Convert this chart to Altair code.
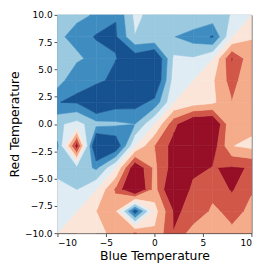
import math
import altair as alt
import pandas as pd

# grid coordinates
x_values = [-10, -8, -6, -4, -2, 0, 2, 4, 6, 8, 10]
y_values = [10, 8, 6, 4, 2, 0, -2, -4, -6, -8, -10]

# z values, one row per y (top to bottom), columns follow x_values
z_y10 = [0.40, 0.45, 0.52, 0.735, 0.18, 0.35, 0.33, 0.25, 0.32, 0.24, 0.0]
z_y8 = [0.45, 0.58, 0.78, 0.78, 0.26, 0.26, 0.49, 0.62, 0.77, 0.0, -0.24]
z_y6 = [0.40, 0.45, 0.59, 0.74, 0.905, 1.09, 0.20, 0.22, 0.0, -0.77, -0.32]
z_y4 = [0.37, 0.71, 0.67, 0.84, 1.00, 1.07, 0.12, 0.0, -0.22, -0.62, -0.25]
z_y2 = [0.745, 0.776, 1.13, 0.885, 0.86, 0.68, 0.0, -0.12, -0.20, -0.49, -0.33]
z_y0 = [0.30, 0.15, 0.40, 0.45, 0.50, 0.0, -0.68, -1.07, -1.09, -0.26, -0.35]
z_ym2 = [0.55, -0.90, 1.20, 1.00, 0.0, -0.50, -0.86, -1.00, -0.905, -0.26, -0.18]
z_ym4 = [0.30, 0.30, 0.55, 0.0, -1.00, -0.45, -0.885, -0.84, -0.74, -0.78, -0.735]
z_ym6 = [0.20, 0.25, 0.0, -0.55, -1.20, -0.40, -1.13, -0.67, -0.59, -0.78, -0.52]
z_ym8 = [0.15, 0.0, -0.25, -0.30, 0.90, -0.15, -0.776, -0.71, -0.45, -0.58, -0.45]
z_ym10 = [0.0, -0.15, -0.20, -0.30, -0.55, -0.30, -0.745, -0.37, -0.40, -0.45, -0.40]
z_rows = [z_y10, z_y8, z_y6, z_y4, z_y2, z_y0, z_ym2, z_ym4, z_ym6, z_ym8, z_ym10]

# contour levels and RdBu band colours
levels = [-0.75, -0.5, -0.25, 0.0, 0.25, 0.5, 0.75]
band_colors = ["#960f26", "#d15749", "#f5ac8b", "#fbe5d9",
               "#dfecf3", "#9ac9e0", "#3f8dc0", "#165290"]

x_ticks = [-10, -5, 0, 5, 10]
y_ticks = [-10, -7.5, -5, -2.5, 0, 2.5, 5, 7.5, 10]

# ---- filled contour bands (marching squares on each grid cell) ----
Z = {}
for r, yv in enumerate(y_values):
    for c, xv in enumerate(x_values):
        Z[(xv, yv)] = z_rows[r][c]

xs = sorted(x_values)
ys = sorted(y_values)
bounds = [-math.inf] + levels + [math.inf]


def band_value(k):
    lo, hi = bounds[k], bounds[k + 1]
    if not math.isfinite(lo):
        return hi - 0.1
    if not math.isfinite(hi):
        return lo + 0.1
    return 0.5 * (lo + hi)


def area(pts):
    s = 0.0
    for a in range(len(pts)):
        x1, y1 = pts[a]
        x2, y2 = pts[(a + 1) % len(pts)]
        s += x1 * y2 - x2 * y1
    return abs(s) / 2


records = []
pid = 0
for i in range(len(xs) - 1):
    for j in range(len(ys) - 1):
        corners = [(xs[i], ys[j]), (xs[i + 1], ys[j]),
                   (xs[i + 1], ys[j + 1]), (xs[i], ys[j + 1])]
        vals = [Z[c] for c in corners]
        for k in range(len(bounds) - 1):
            lo, hi = bounds[k], bounds[k + 1]
            pts = []
            for e in range(4):
                (xa, ya), va = corners[e], vals[e]
                (xb, yb), vb = corners[(e + 1) % 4], vals[(e + 1) % 4]
                if lo <= va <= hi:
                    pts.append((xa, ya))
                cross = []
                for L in (lo, hi):
                    if math.isfinite(L) and (va - L) * (vb - L) < 0:
                        t = (L - va) / (vb - va)
                        cross.append((t, xa + t * (xb - xa), ya + t * (yb - ya)))
                cross.sort()
                pts += [(p[1], p[2]) for p in cross]
            clean = []
            for p in pts:
                if not clean or (abs(p[0] - clean[-1][0]) > 1e-9 or abs(p[1] - clean[-1][1]) > 1e-9):
                    clean.append(p)
            if len(clean) >= 3 and area(clean) > 1e-6:
                for n, (px, py) in enumerate(clean):
                    records.append({"pid": pid, "ord": n, "x": px, "y": py,
                                    "val": band_value(k)})
                pid += 1

df = pd.DataFrame(records)

color_scale = alt.Scale(type="threshold", domain=levels, range=band_colors)

chart = alt.Chart(df).mark_line(interpolate="linear-closed", strokeWidth=0.6).encode(
    x=alt.X("x:Q",
            scale=alt.Scale(domain=[-10, 10], nice=False, zero=False),
            axis=alt.Axis(values=x_ticks, format="d", title="Blue Temperature",
                          titleY=23, titleBaseline="middle")),
    y=alt.Y("y:Q",
            scale=alt.Scale(domain=[-10, 10], nice=False, zero=False),
            axis=alt.Axis(values=y_ticks, format=".1f", title="Red Temperature",
                          titleX=-44, titleY=112.5, titleAngle=270,
                          titleBaseline="middle", titleAlign="center")),
    detail="pid:N",
    order="ord:Q",
    fill=alt.Fill("val:Q", scale=color_scale, legend=None),
    stroke=alt.Stroke("val:Q", scale=color_scale, legend=None),
).properties(
    width=200,
    height=225,
    autosize=alt.AutoSizeParams(type="none"),
    padding={"left": 51, "top": 3, "right": 14, "bottom": 37},
).configure_view(
    stroke="#222222", strokeWidth=1
).configure_axis(
    grid=False, domain=False, tickColor="#222222", tickSize=3.5, tickWidth=0.8,
    labelFont="DejaVu Sans", labelFontSize=9.3, labelColor="black", labelPadding=2,
    titleFont="DejaVu Sans", titleFontSize=12.8, titleFontWeight="normal",
    titleColor="black",
)

chart.save("out.html", embed_options={"renderer": "svg", "actions": False})
